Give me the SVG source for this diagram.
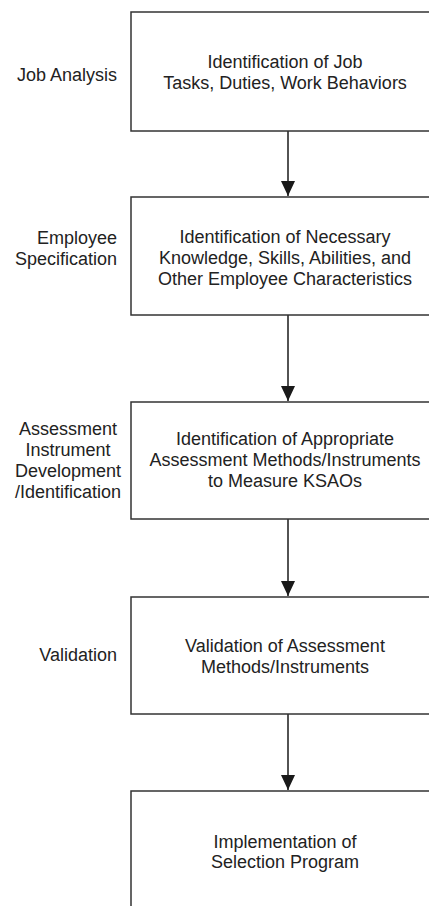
<svg xmlns="http://www.w3.org/2000/svg" width="429" height="906" viewBox="0 0 429 906">
  <defs>
    <marker id="arrowhead" markerWidth="10" markerHeight="10" refX="9" refY="5" orient="auto" markerUnits="userSpaceOnUse" viewBox="0 0 10 10">
      <path d="M0,0 L10,5 L0,10 Z" fill="#1a1a1a"/>
    </marker>
    <style>
      .box { fill: #ffffff; stroke: #333333; stroke-width: 1.5; }
      .edge { fill: none; stroke: #1a1a1a; stroke-width: 1.5; }
      text { font-family: "Liberation Sans", Arial, sans-serif; font-size: 18px; fill: #222222; }
      .mid { text-anchor: middle; }
      .right { text-anchor: end; }
    </style>
  </defs>
  <rect width="429" height="906" fill="#ffffff"/>

  <!-- connectors between steps -->
  <g id="connectors">
    <line class="edge" x1="288" y1="131" x2="288" y2="196"/>
    <path d="M281,181 L295,181 L288,196 Z" fill="#1a1a1a"/>
    <line class="edge" x1="288" y1="315" x2="288" y2="401"/>
    <path d="M281,386 L295,386 L288,401 Z" fill="#1a1a1a"/>
    <line class="edge" x1="288" y1="519" x2="288" y2="596"/>
    <path d="M281,581 L295,581 L288,596 Z" fill="#1a1a1a"/>
    <line class="edge" x1="288" y1="714" x2="288" y2="790"/>
    <path d="M281,775 L295,775 L288,790 Z" fill="#1a1a1a"/>
  </g>

  <g id="job-analysis">
    <rect class="box" x="131" y="12" width="320" height="119"/>
    <text class="mid" x="285" y="68">Identification of Job</text>
    <text class="mid" x="285" y="89">Tasks, Duties, Work Behaviors</text>
    <text class="right" x="117" y="81">Job Analysis</text>
  </g>

  <g id="employee-specification">
    <rect class="box" x="131" y="197" width="320" height="118"/>
    <text class="mid" x="285" y="243">Identification of Necessary</text>
    <text class="mid" x="285" y="264">Knowledge, Skills, Abilities, and</text>
    <text class="mid" x="285" y="285">Other Employee Characteristics</text>
    <text class="right" x="117" y="244">Employee</text>
    <text class="right" x="117" y="265">Specification</text>
  </g>

  <g id="assessment-instrument">
    <rect class="box" x="131" y="402" width="320" height="117"/>
    <text class="mid" x="285" y="445">Identification of Appropriate</text>
    <text class="mid" x="285" y="466">Assessment Methods/Instruments</text>
    <text class="mid" x="285" y="487">to Measure KSAOs</text>
    <text class="mid" x="68" y="435">Assessment</text>
    <text class="mid" x="68" y="456">Instrument</text>
    <text class="mid" x="68" y="477">Development</text>
    <text class="mid" x="68" y="498">/Identification</text>
  </g>

  <g id="validation">
    <rect class="box" x="131" y="597" width="320" height="117"/>
    <text class="mid" x="285" y="652">Validation of Assessment</text>
    <text class="mid" x="285" y="673">Methods/Instruments</text>
    <text class="right" x="117" y="661">Validation</text>
  </g>

  <g id="implementation">
    <rect class="box" x="131" y="791" width="320" height="130"/>
    <text class="mid" x="285" y="848">Implementation of</text>
    <text class="mid" x="285" y="868">Selection Program</text>
  </g>
</svg>
